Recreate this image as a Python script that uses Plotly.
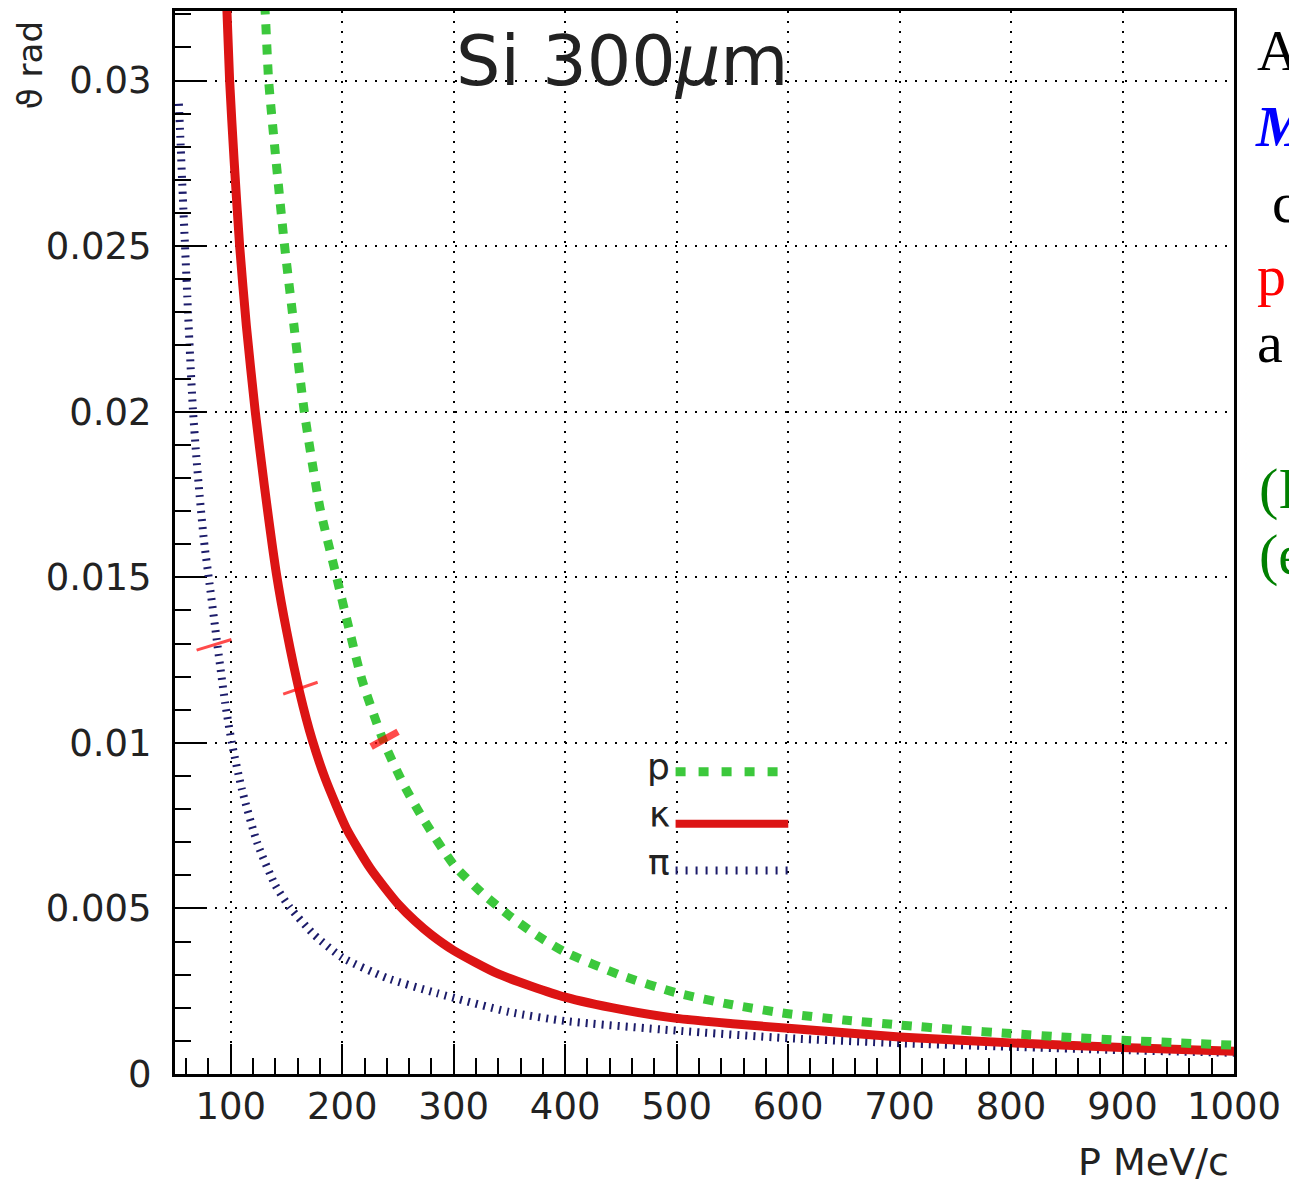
import plotly.graph_objects as go

# ---------------- data ----------------
p_proton = [128, 131, 134, 140, 148, 156, 166, 180, 195, 205, 218, 238, 255, 272, 300, 325,
            350, 375, 400, 450, 500, 550, 600, 650, 700, 750, 800, 850, 900, 950, 1000]
theta_proton = [0.0335, 0.0320, 0.0300, 0.0278, 0.0251, 0.0228, 0.0200, 0.0171, 0.0150, 0.0136,
                0.01187, 0.00997, 0.00875, 0.00774, 0.00632, 0.00548, 0.00478, 0.00418, 0.00368,
                0.00298, 0.00245, 0.00209, 0.00182, 0.00163, 0.00148, 0.00134, 0.00122, 0.00111,
                0.00102, 0.00094, 0.00087]

p_kaon = [95, 99, 103, 108, 114, 122, 130, 141, 150, 162, 173, 185, 204, 225, 237, 251, 265,
          280, 300, 340, 400, 450, 500, 550, 600, 700, 800, 900, 1000]
theta_kaon = [0.0335, 0.0300, 0.0276, 0.0250, 0.0226, 0.0200, 0.0178, 0.0151, 0.0134, 0.0115,
              0.0101, 0.0089, 0.0074, 0.00622, 0.00568, 0.00510, 0.00463, 0.00420, 0.00373,
              0.00302, 0.00232, 0.00195, 0.00168, 0.00152, 0.00138, 0.00112, 0.00094, 0.00080,
              0.00069]

p_pion = [53.5, 55, 57, 59, 61, 63.5, 66, 69, 72, 76, 81, 87.5, 95, 101, 110, 124, 140, 153,
          175, 200, 240, 285, 350, 400, 500, 600, 700, 800, 900, 1000]
theta_pion = [0.0293, 0.0281, 0.0265, 0.0250, 0.0235, 0.0217, 0.0201, 0.0187, 0.0175, 0.0161,
              0.0148, 0.0131, 0.0112, 0.0100, 0.0086, 0.00696, 0.0057, 0.00503, 0.0042, 0.00352,
              0.0029, 0.00244, 0.00187, 0.0016, 0.00131, 0.00108, 0.00093, 0.00082, 0.00072, 0.00064]

# red marks crossing the curves
mark_p = [85, 162.5, 238]
mark_theta = [0.01296, 0.01165, 0.01011]

legend_labels = ["p", "κ", "π"]
title_text = "Si 300<i>μ</i>m"
x_title = "P MeV/c"
y_title = "ϑ rad"
side_texts = ["A", "<b><i>M</i></b>", "c", "p", "a", "(I", "(e"]
side_colors = ["black", "#0000ff", "black", "#ff0000", "black", "#008000", "#008000"]

# ---------------- layout geometry ----------------
W, H = 1289, 1186
L, R, T, B = 175, 52, 8, 112
PW, PH = W - L - R, H - T - B


def px(x):
    return (x - L) / PW


def py(y):
    return (H - B - y) / PH


GREEN = "#3cc83c"
RED = "#dc1414"
NAVY = "#1c1c6a"
FONT = "DejaVu Sans"
TXT = "#222"

fig = go.Figure()
fig.add_trace(go.Scatter(x=p_pion, y=theta_pion, mode="lines",
                         line=dict(color=NAVY, width=8, dash="2px,6px",
                                   shape="spline", smoothing=0.6)))
fig.add_trace(go.Scatter(x=p_kaon, y=theta_kaon, mode="lines",
                         line=dict(color=RED, width=9, shape="spline", smoothing=0.6)))
fig.add_trace(go.Scatter(x=p_proton, y=theta_proton, mode="lines",
                         line=dict(color=GREEN, width=9, dash="10px,10px",
                                   shape="spline", smoothing=0.6)))
fig.add_trace(go.Scatter(x=mark_p, y=mark_theta, mode="markers",
                         marker=dict(symbol="line-ew", size=[26, 26, 22],
                                     angle=[-17, -19, -29], color="#ff0000",
                                     line=dict(color="#ff0000", width=[3, 3, 7]))))

# legend (drawn by hand, text left of the sample lines)
leg_y = [771, 823, 870]
leg_styles = [dict(color=GREEN, width=9, dash="10px,13px"),
              dict(color=RED, width=8),
              dict(color=NAVY, width=8, dash="2px,8px")]
for yy, st in zip(leg_y, leg_styles):
    fig.add_shape(type="line", xref="paper", yref="paper", x0=px(677), x1=px(790),
                  y0=py(yy), y1=py(yy), line=st)
for lab, yy in zip(legend_labels, [766, 814, 862]):
    fig.add_annotation(text=lab, xref="paper", yref="paper", x=px(673), y=py(yy),
                       xanchor="right", yanchor="middle", showarrow=False,
                       font=dict(family=FONT, size=36, color=TXT))

fig.add_annotation(text=title_text, xref="paper", yref="paper", x=px(624), y=py(58),
                   xanchor="center", yanchor="middle", showarrow=False,
                   font=dict(family=FONT, size=70, color=TXT))
fig.add_annotation(text=y_title, xref="paper", yref="paper", x=px(29), y=py(62),
                   xanchor="center", yanchor="middle", textangle=-90, showarrow=False,
                   font=dict(family=FONT, size=34, color=TXT))
fig.add_annotation(text=x_title, xref="paper", yref="paper", x=px(1234), y=py(1162),
                   xanchor="right", yanchor="middle", showarrow=False,
                   font=dict(family=FONT, size=38, color=TXT))

side_x = [1258, 1256, 1273, 1258, 1258, 1260, 1260]
side_y = [48, 124, 200, 273, 340, 487, 553]
for t, c, sx, sy in zip(side_texts, side_colors, side_x, side_y):
    fig.add_annotation(text=t, xref="paper", yref="paper", x=px(sx), y=py(sy),
                       xanchor="left", yanchor="middle", showarrow=False,
                       font=dict(family="Liberation Serif", size=58, color=c))

axis_common = dict(showline=True, linewidth=3, linecolor="black", mirror=True,
                   ticks="inside", ticklen=30, tickwidth=2, tickcolor="black",
                   showgrid=True, gridcolor="black", gridwidth=2, griddash="2px,8px",
                   zeroline=False,
                   tickfont=dict(family=FONT, size=37, color=TXT))

fig.update_xaxes(range=[50, 1000], tickmode="linear", tick0=0, dtick=100,
                 ticklabelstandoff=-2,
                 minor=dict(ticks="inside", ticklen=16, tickwidth=2, tickcolor="black",
                            tick0=0, dtick=20, showgrid=False),
                 **axis_common)
fig.update_yaxes(range=[0, 0.0321], tickmode="linear", tick0=0, dtick=0.005,
                 ticklabelstandoff=13,
                 minor=dict(ticks="inside", ticklen=16, tickwidth=2, tickcolor="black",
                            tick0=0, dtick=0.001, showgrid=False),
                 **axis_common)

fig.update_layout(width=W, height=H, margin=dict(l=L, r=R, t=T, b=B),
                  paper_bgcolor="white", plot_bgcolor="white", showlegend=False)

fig.write_html("out.html")
